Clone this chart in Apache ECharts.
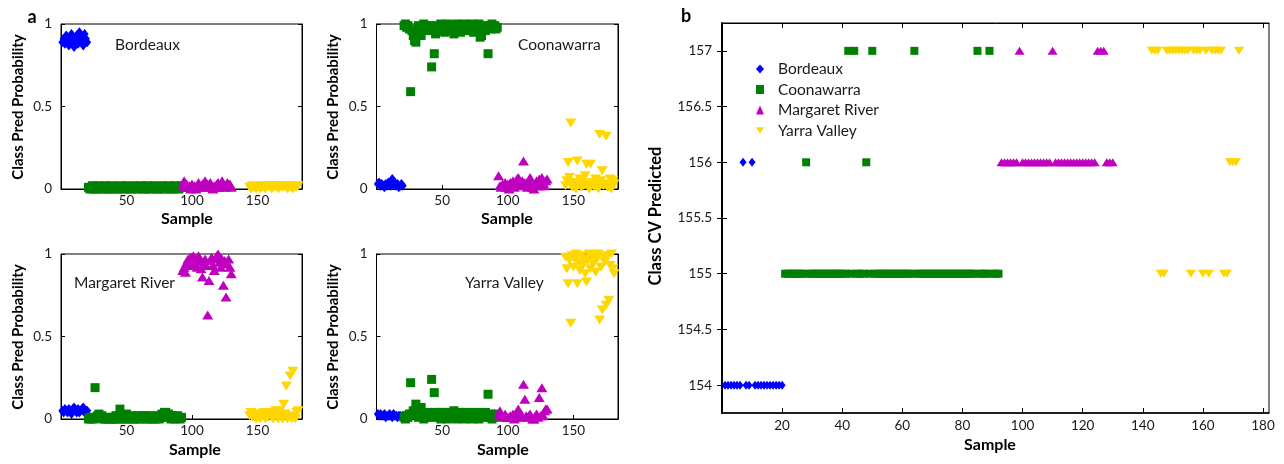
<!DOCTYPE html>
<html>
<head>
<meta charset="utf-8">
<script src="https://cdn.jsdelivr.net/npm/echarts@6/dist/echarts.min.js"></script>
<style>
  html, body { margin: 0; padding: 0; background: #ffffff; }
  #chart { width: 1284px; height: 464px; }
</style>
</head>
<body>
<div id="chart"></div>
<script>
// ---- classes ----
const classNames = ['Bordeaux', 'Coonawarra', 'Margaret River', 'Yarra Valley'];
const cvTickValues = [154, 154.5, 155, 155.5, 156, 156.5, 157];
const cvSampleTicks = [20, 40, 60, 80, 100, 120, 140, 160, 180];
const probSampleTicks = [50, 100, 150];
const probTickValues = [0, 0.5, 1];

// first sample number of each class (probability panels / CV panel)
const probStart = [1, 21, 93, 144];
const cvStart = [1, 21, 93, 143];

// ---- panel a: predicted probability of Bordeaux ----
const pBo_bo = [0.89,0.91,0.88,0.93,0.90,0.87,0.92,0.94,0.89,0.86,0.91,0.93,0.88,0.95,0.90,0.92,0.87,0.94,0.91,0.89];
const pBo_co = [
  0.01,0.00,0.01,0.02,0.00,0.01,0.01,0.00,0.02,0.01,0.00,0.01,
  0.01,0.02,0.00,0.01,0.00,0.01,0.02,0.01,0.00,0.01,0.01,0.00,
  0.02,0.01,0.01,0.00,0.01,0.02,0.00,0.01,0.01,0.00,0.01,0.02,
  0.01,0.00,0.01,0.01,0.02,0.00,0.01,0.01,0.00,0.02,0.01,0.00,
  0.01,0.01,0.02,0.01,0.00,0.01,0.00,0.01,0.02,0.01,0.00,0.01,
  0.01,0.02,0.00,0.01,0.01,0.00,0.02,0.01,0.01,0.00,0.01,0.02];
const pBo_mr = [
  0.02,0.05,0.01,0.03,0.01,0.02,0.00,0.03,0.01,0.02,0.00,0.02,
  0.04,0.01,0.02,0.03,0.01,0.05,0.02,0.03,0.01,0.04,0.02,0.00,
  0.02,0.01,0.03,0.04,0.01,0.02,0.05,0.02,0.01,0.02,0.04,0.02,
  0.03,0.01];
const pBo_yv = [
  0.01,0.00,0.02,0.01,0.01,0.00,0.01,0.02,0.00,0.01,0.01,0.02,
  0.00,0.01,0.02,0.01,0.02,0.00,0.01,0.02,0.01,0.02,0.00,0.01,
  0.02,0.01,0.01,0.02,0.01,0.00,0.02,0.01,0.01,0.00,0.02,0.01,
  0.01,0.02];

// ---- panel a: predicted probability of Coonawarra ----
const pCo_bo = [0.03,0.04,0.02,0.03,0.02,0.01,0.03,0.02,0.04,0.03,0.02,0.06,0.03,0.04,0.02,0.03,0.01,0.02,0.03,0.02];
const pCo_co = [
  0.99,1.00,0.98,0.99,0.97,0.59,0.96,0.93,0.90,0.89,0.95,0.99,
  0.97,0.93,0.97,1.00,0.98,0.99,0.96,0.99,0.98,0.74,0.97,0.82,
  0.94,0.99,0.98,0.96,1.00,0.97,0.99,0.95,0.98,1.00,0.99,0.96,
  0.98,0.99,0.94,0.99,1.00,0.98,0.97,0.95,0.99,0.98,1.00,0.96,
  0.99,0.98,0.97,0.99,1.00,0.95,0.98,0.99,0.97,1.00,0.92,0.93,
  0.98,0.99,0.96,0.98,0.82,0.99,0.97,1.00,0.98,0.99,0.97,0.98];
const pCo_mr = [
  0.08,0.02,0.01,0.03,0.02,0.04,0.01,0.03,0.00,0.04,0.02,0.05,
  0.01,0.03,0.06,0.07,0.03,0.02,0.05,0.17,0.04,0.02,0.01,0.05,
  0.07,0.02,0.01,0.00,0.03,0.05,0.02,0.06,0.02,0.07,0.04,0.02,
  0.05,0.06];
const pCo_yv = [
  0.02,0.05,0.16,0.07,0.40,0.01,0.04,0.02,0.00,0.17,0.03,0.06,
  0.01,0.04,0.02,0.08,0.15,0.03,0.00,0.15,0.02,0.04,0.01,0.06,
  0.02,0.00,0.33,0.05,0.11,0.02,0.03,0.32,0.01,0.01,0.06,0.00,
  0.05,0.03];

// ---- panel a: predicted probability of Margaret River ----
const pMr_bo = [0.05,0.04,0.06,0.05,0.04,0.06,0.05,0.03,0.06,0.07,0.05,0.04,0.06,0.04,0.05,0.06,0.07,0.04,0.05,0.05];
const pMr_co = [
  0.00,0.01,0.00,0.01,0.00,0.19,0.01,0.02,0.03,0.01,0.02,0.00,
  0.01,0.00,0.01,0.00,0.01,0.00,0.00,0.01,0.00,0.02,0.00,0.02,
  0.06,0.01,0.00,0.02,0.00,0.03,0.01,0.00,0.01,0.02,0.00,0.01,
  0.00,0.01,0.02,0.00,0.01,0.02,0.01,0.00,0.02,0.01,0.00,0.01,
  0.02,0.00,0.01,0.00,0.01,0.02,0.00,0.01,0.03,0.02,0.04,0.04,
  0.01,0.03,0.02,0.00,0.02,0.01,0.00,0.01,0.02,0.01,0.00,0.01];
const pMr_mr = [
  0.90,0.92,0.89,0.95,0.97,0.93,0.98,0.96,0.99,0.94,0.97,0.92,
  0.99,0.96,0.91,0.86,0.95,0.97,0.93,0.63,0.84,0.96,0.98,0.93,
  0.90,0.97,0.99,1.00,0.95,0.92,0.97,0.81,0.96,0.74,0.94,0.97,
  0.92,0.88];
const pMr_yv = [
  0.02,0.04,0.01,0.03,0.01,0.00,0.03,0.01,0.00,0.01,0.02,0.04,
  0.00,0.03,0.01,0.04,0.02,0.01,0.00,0.03,0.05,0.02,0.00,0.05,
  0.01,0.00,0.09,0.03,0.20,0.00,0.02,0.26,0.00,0.29,0.01,0.00,
  0.04,0.05];

// ---- panel a: predicted probability of Yarra Valley ----
const pYv_bo = [0.03,0.02,0.03,0.02,0.02,0.03,0.01,0.02,0.02,0.03,0.02,0.01,0.03,0.02,0.02,0.01,0.02,0.02,0.01,0.02];
const pYv_co = [
  0.01,0.00,0.02,0.01,0.03,0.22,0.03,0.05,0.04,0.09,0.03,0.01,
  0.02,0.07,0.03,0.00,0.02,0.01,0.04,0.01,0.02,0.24,0.03,0.16,
  0.04,0.01,0.02,0.04,0.00,0.03,0.01,0.04,0.02,0.00,0.01,0.04,
  0.02,0.01,0.05,0.01,0.00,0.02,0.03,0.04,0.01,0.02,0.00,0.04,
  0.01,0.02,0.03,0.01,0.00,0.04,0.02,0.01,0.03,0.00,0.04,0.03,
  0.02,0.01,0.04,0.02,0.15,0.01,0.03,0.00,0.02,0.01,0.03,0.02];
const pYv_mr = [
  0.02,0.05,0.03,0.02,0.01,0.03,0.01,0.01,0.01,0.02,0.01,0.03,
  0.00,0.01,0.03,0.06,0.02,0.01,0.02,0.21,0.12,0.02,0.01,0.02,
  0.03,0.01,0.00,0.00,0.02,0.03,0.01,0.13,0.02,0.19,0.02,0.05,
  0.06,0.06];
const pYv_yv = [
  0.98,0.91,0.82,0.96,0.58,0.99,0.92,0.97,1.00,0.82,0.95,0.90,
  0.99,0.93,0.97,0.88,0.83,0.96,1.00,0.91,0.98,0.94,0.99,0.89,
  0.97,1.00,0.60,0.92,0.66,0.98,0.95,0.69,0.99,0.72,0.93,1.00,
  0.91,0.88];

// ---- panel b: class predicted in cross-validation ----
const cvBordeaux = [154,154,154,154,154,154,156,154,154,156,154,154,154,154,154,154,154,154,154,154];
const cvCoonawarra = [
  155,155,155,155,155,155,155,156,155,155,155,155,
  155,155,155,155,155,155,155,155,155,157,155,157,
  155,155,155,156,155,157,155,155,155,155,155,155,
  155,155,155,155,155,155,155,157,155,155,155,155,
  155,155,155,155,155,155,155,155,155,155,155,155,
  155,155,155,155,157,155,155,155,157,155,155,155];
const cvMargaret = [
  156,156,156,156,156,156,157,156,156,156,156,156,
  156,156,156,156,156,157,156,156,156,156,156,156,
  156,156,156,156,156,156,156,156,157,157,157,156,
  156,156];
const cvYarra = [
  157,157,157,155,155,157,157,157,157,157,157,157,
  157,155,157,157,157,155,157,155,157,157,157,157,
  155,155,156,156,156,157];

// ---- assembly ----
const probPanels = [
  [pBo_bo, pBo_co, pBo_mr, pBo_yv],
  [pCo_bo, pCo_co, pCo_mr, pCo_yv],
  [pMr_bo, pMr_co, pMr_mr, pMr_yv],
  [pYv_bo, pYv_co, pYv_mr, pYv_yv]
];
const cvPanel = [cvBordeaux, cvCoonawarra, cvMargaret, cvYarra];

const FONT = 'Lato, "Open Sans", sans-serif';
const colors = ['#0000FF', '#008000', '#BF00BF', '#FFD700'];
// downward triangle drawn as a path so the legend shows it the same way
const symbols = ['diamond', 'rect', 'triangle', 'path://M0,0 L10,0 L5,8 Z'];
const probSizes = [[8, 10], [9, 9], [11, 9], [11, 9]];
const cvSizes = [[7, 9], [8, 8], [10, 8], [10, 8]];

const grids = [
  { left: 61, top: 24, width: 241, height: 165 },
  { left: 376.5, top: 24, width: 241.5, height: 165 },
  { left: 61, top: 254, width: 241, height: 165 },
  { left: 376.5, top: 254, width: 241.5, height: 165 },
  { left: 722, top: 23, width: 547, height: 390 }
].map(g => Object.assign({ show: true, borderColor: '#000', borderWidth: 1, outerBoundsMode: 'none' }, g));

const labelStyle = { fontFamily: FONT, fontSize: 13.5, color: '#1a1a1a' };
const axisLine = { show: true, lineStyle: { color: '#000', width: 1 } };

const xAxes = [];
const yAxes = [];
for (let p = 0; p < 4; p++) {
  xAxes.push({
    gridIndex: p, type: 'value', min: 0, max: 184, position: 'bottom',
    axisLine, splitLine: { show: false },
    axisTick: { inside: true, length: 4, customValues: probSampleTicks, lineStyle: { color: '#000' } },
    axisLabel: Object.assign({ customValues: probSampleTicks, margin: 5 }, labelStyle)
  });
  yAxes.push({
    gridIndex: p, type: 'value', min: 0, max: 1, position: 'left',
    axisLine, splitLine: { show: false },
    axisTick: { inside: true, length: 4, customValues: probTickValues, lineStyle: { color: '#000' } },
    axisLabel: Object.assign({ customValues: probTickValues, margin: 9 }, labelStyle)
  });
  yAxes.push({
    gridIndex: p, type: 'value', min: 0, max: 1, position: 'right',
    axisLine, splitLine: { show: false },
    axisTick: { inside: true, length: 4, customValues: probTickValues, lineStyle: { color: '#000' } },
    axisLabel: { show: false }
  });
}
// panel b axes (ticks on all four sides)
xAxes.push({
  gridIndex: 4, type: 'value', min: 0, max: 182, position: 'bottom',
  axisLine: { show: true, lineStyle: { color: '#000', width: 1.5 } }, splitLine: { show: false },
  axisTick: { inside: true, length: 5, customValues: cvSampleTicks, lineStyle: { color: '#000' } },
  axisLabel: Object.assign({ customValues: cvSampleTicks, margin: 6 }, labelStyle)
});
xAxes.push({
  gridIndex: 4, type: 'value', min: 0, max: 182, position: 'top',
  axisLine, splitLine: { show: false },
  axisTick: { inside: true, length: 5, customValues: cvSampleTicks, lineStyle: { color: '#000' } },
  axisLabel: { show: false }
});
yAxes.push({
  gridIndex: 4, type: 'value', min: 153.75, max: 157.25, position: 'left',
  axisLine, splitLine: { show: false },
  axisTick: { inside: true, length: 5, customValues: cvTickValues, lineStyle: { color: '#000' } },
  axisLabel: Object.assign({ customValues: cvTickValues, margin: 10 }, labelStyle)
});
yAxes.push({
  gridIndex: 4, type: 'value', min: 153.75, max: 157.25, position: 'right',
  axisLine: { show: true, lineStyle: { color: '#000', width: 2 } }, splitLine: { show: false },
  axisTick: { inside: true, length: 5, customValues: cvTickValues, lineStyle: { color: '#000' } },
  axisLabel: { show: false }
});

const series = [];
for (let p = 0; p < 4; p++) {
  for (let c = 0; c < 4; c++) {
    series.push({
      type: 'scatter', name: classNames[c],
      xAxisIndex: p, yAxisIndex: p * 2,
      symbol: symbols[c], symbolSize: probSizes[c],
      itemStyle: { color: colors[c], opacity: 1 },
      clip: false, silent: true,
      data: probPanels[p][c].map((v, i) => [probStart[c] + i, v])
    });
  }
}
for (let c = 0; c < 4; c++) {
  series.push({
    type: 'scatter', name: classNames[c],
    xAxisIndex: 4, yAxisIndex: 8,
    symbol: symbols[c], symbolSize: cvSizes[c],
    itemStyle: { color: colors[c], opacity: 1 },
    clip: false, silent: true,
    data: cvPanel[c].map((v, i) => [cvStart[c] + i, v])
  });
}

function txt(text, x, y, size, bold, opts) {
  return Object.assign({
    type: 'text', x, y, silent: true,
    style: {
      text, fill: '#000', font: (bold ? 'bold ' : '') + size + 'px ' + FONT,
      textAlign: 'center', textVerticalAlign: 'middle'
    }
  }, opts || {});
}
function leftTxt(text, x, y, size) {
  const t = txt(text, x, y, size, false);
  t.style.textAlign = 'left';
  t.style.fill = '#1a1a1a';
  return t;
}

const graphics = [
  txt('a', 32, 17, 18, true),
  txt('b', 686, 16, 18, true),
  leftTxt('Bordeaux', 115, 45, 15.5),
  leftTxt('Coonawarra', 518, 45, 15.5),
  leftTxt('Margaret River', 74, 283, 15.5),
  leftTxt('Yarra Valley', 465, 283, 15.5),
  txt('Class Pred Probability', 18, 107, 15, true, { rotation: Math.PI / 2 }),
  txt('Class Pred Probability', 333, 107, 15, true, { rotation: Math.PI / 2 }),
  txt('Class Pred Probability', 18, 337, 15, true, { rotation: Math.PI / 2 }),
  txt('Class Pred Probability', 333, 337, 15, true, { rotation: Math.PI / 2 }),
  txt('Sample', 187, 219, 16, true),
  txt('Sample', 507, 219, 16, true),
  txt('Sample', 195, 450, 16, true),
  txt('Sample', 503, 450, 16, true),
  txt('Class CV Predicted', 656, 216, 16.5, true, { rotation: Math.PI / 2 }),
  txt('Sample', 990, 445, 16, true)
];

const chart = echarts.init(document.getElementById('chart'), null, { renderer: 'canvas' });
chart.setOption({
  backgroundColor: '#ffffff',
  animation: false,
  grid: grids,
  xAxis: xAxes,
  yAxis: yAxes,
  legend: {
    data: classNames,
    orient: 'vertical',
    left: 751, top: 56,
    itemWidth: 8, itemHeight: 9, itemGap: 4.5,
    selectedMode: false,
    textStyle: { fontFamily: FONT, fontSize: 15.5, color: '#1a1a1a', lineHeight: 14, padding: [0, 0, 0, 9] }
  },
  series,
  graphic: graphics
});
</script>
</body>
</html>
